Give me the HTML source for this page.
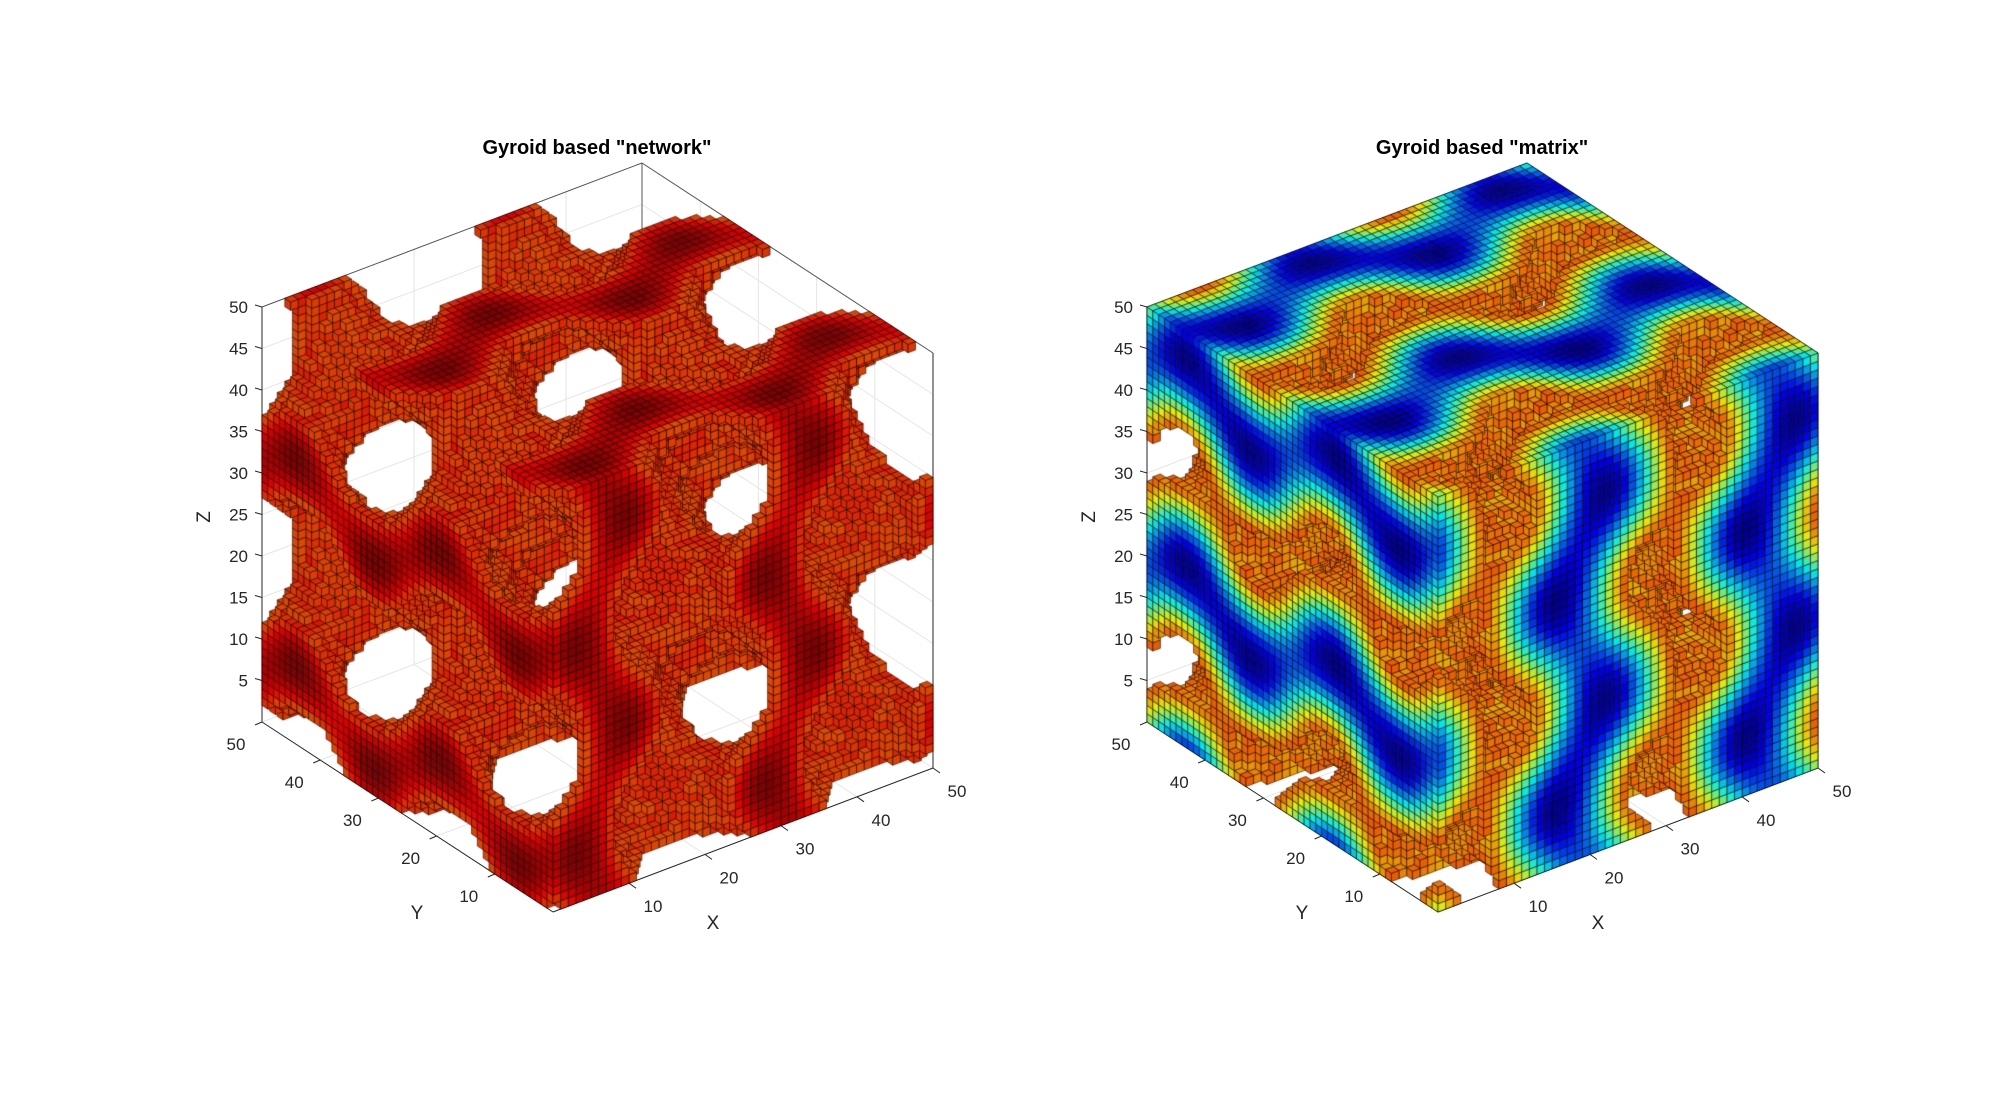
<!DOCTYPE html>
<html><head><meta charset="utf-8">
<style>
html,body{margin:0;padding:0;background:#fff;}
#wrap{position:relative;width:2000px;height:1113px;overflow:hidden;font-family:"Liberation Sans",sans-serif;}
svg,canvas{position:absolute;left:0;top:0;}
</style></head>
<body>
<div id="wrap">
<svg id="axes" width="2000" height="1113"></svg>
<canvas id="cv" width="2000" height="1113"></canvas>
</div>
<script>
// ---- data ----
const xTicks = [10, 20, 30, 40, 50];
const yTicks = [10, 20, 30, 40, 50];
const zTicks = [5, 10, 15, 20, 25, 30, 35, 40, 45, 50];
const gridN = [50];
const periods = [2];
const titles = ['Gyroid based "network"', 'Gyroid based "matrix"'];
const thresholds = [0.45, 0.9];
const phases = [0, 0, 0];

// ---- projection ----
const EX=[7.6,-2.88], EY=[-5.82,-3.8], EZ=[0,-8.3];
const origins=[[553,912],[1438,912]];
function P(o,x,y,z){return [o[0]+x*EX[0]+y*EY[0]+z*EZ[0], o[1]+x*EX[1]+y*EY[1]+z*EZ[1]];}

const NS="http://www.w3.org/2000/svg";
const svg=document.getElementById('axes');
function mk(tag,attrs,name){const e=document.createElementNS(NS,tag);for(const k in attrs)e.setAttribute(k,attrs[k]);


svg.appendChild(e);return e;}
function line(a,b,col,w,name){return mk('line',{x1:a[0],y1:a[1],x2:b[0],y2:b[1],stroke:col,'stroke-width':w},name);}
function text(x,y,s,name,extra){const t=mk('text',Object.assign({x:x,y:y,'font-size':17,fill:'#262626','font-family':'Liberation Sans, sans-serif'},extra||{}),name);t.textContent=s;return t;}

const N=gridN[0];
origins.forEach((o,pi)=>{
  const gc='#e6e6e6';
  xTicks.forEach(v=>{ line(P(o,v,0,0),P(o,v,N,0),gc,1,'floor-grid-x'); line(P(o,v,N,0),P(o,v,N,N),gc,1,'wall-grid-x'); });
  yTicks.forEach(v=>{ line(P(o,0,v,0),P(o,N,v,0),gc,1,'floor-grid-y'); line(P(o,N,v,0),P(o,N,v,N),gc,1,'wall-grid-y'); });
  zTicks.forEach(v=>{ line(P(o,0,N,v),P(o,N,N,v),gc,1,'wall-grid-z'); line(P(o,N,N,v),P(o,N,0,v),gc,1,'wall-grid-z'); });
  const ac='#262626';
  line(P(o,0,N,N),P(o,N,N,N),'#555',1,'box-edge');
  line(P(o,N,N,N),P(o,N,0,N),'#555',1,'box-edge');
  line(P(o,N,N,0),P(o,N,N,N),'#555',1,'box-edge');
  line(P(o,0,N,0),P(o,0,N,N),ac,1,'z-axis-line');
  line(P(o,0,N,0),P(o,0,0,0),ac,1,'y-axis-line');
  line(P(o,0,0,0),P(o,N,0,0),ac,1,'x-axis-line');
  line(P(o,N,0,0),P(o,N,0,N),ac,1,'box-edge');
  zTicks.forEach(v=>{const p=P(o,0,N,v); line(p,[p[0]-7,p[1]-2],ac,1,'z-tick');
    text(p[0]-14,p[1]+6,String(v),'z-tick-label',{'text-anchor':'end'});});
  yTicks.forEach(v=>{const p=P(o,0,v,0); line(p,[p[0]-7,p[1]+3],ac,1,'y-tick');
    text(p[0]-26,p[1]+28,String(v),'y-tick-label',{'text-anchor':'middle'});});
  xTicks.forEach(v=>{const p=P(o,v,0,0); line(p,[p[0]+7,p[1]+5],ac,1,'x-tick');
    text(p[0]+24,p[1]+29,String(v),'x-tick-label',{'text-anchor':'middle'});});
  text(o[0]+160,o[1]+17,'X','x-axis-title',{'font-size':19,'text-anchor':'middle'});
  text(o[0]-136,o[1]+7,'Y','y-axis-title',{'font-size':19,'text-anchor':'middle'});
  text(0,0,'Z','z-axis-title',{'font-size':19,'text-anchor':'middle',transform:'translate('+(o[0]-343)+','+(o[1]-395)+') rotate(-90)'});
  text(o[0]+44,154,titles[pi],'chart-title',{'font-size':20,'font-weight':'bold','text-anchor':'middle',fill:'#000'});
});

// ---- voxels ----
function jet(c){const cl=v=>Math.max(0,Math.min(1,v));return [cl(1.5-Math.abs(4*c-3)),cl(1.5-Math.abs(4*c-2)),cl(1.5-Math.abs(4*c-1))];}
const k=2*Math.PI*periods[0]/N;
const F=new Float32Array(N*N*N);
for(let i=0;i<N;i++)for(let j=0;j<N;j++)for(let l=0;l<N;l++){
  const X=k*(i+0.5)+phases[0],Y=k*(j+0.5)+phases[1],Z=k*(l+0.5)+phases[2];
  F[(i*N+j)*N+l]=Math.sin(X)*Math.cos(Y)+Math.sin(Y)*Math.cos(Z)+Math.sin(Z)*Math.cos(X);
}
const cv=document.getElementById('cv'),ctx=cv.getContext('2d');
ctx.lineWidth=0.7;ctx.strokeStyle='rgba(0,0,0,0.8)';
function drawCube(o,solid,colorOf){
  const S=(i,j,l)=>i>=0&&j>=0&&l>=0&&i<N&&j<N&&l<N&&solid(F[(i*N+j)*N+l]);
  for(let i=N-1;i>=0;i--)for(let j=N-1;j>=0;j--)for(let l=0;l<N;l++){
    const f=F[(i*N+j)*N+l]; if(!solid(f))continue;
    const c=colorOf(f);
    const faces=[];
    if(!S(i-1,j,l))faces.push([[i,j,l],[i,j+1,l],[i,j+1,l+1],[i,j,l+1]]);
    if(!S(i,j-1,l))faces.push([[i,j,l],[i+1,j,l],[i+1,j,l+1],[i,j,l+1]]);
    if(!S(i,j,l+1))faces.push([[i,j,l+1],[i+1,j,l+1],[i+1,j+1,l+1],[i,j+1,l+1]]);
    if(!faces.length)continue;
    ctx.fillStyle='rgb('+Math.round(c[0]*255)+','+Math.round(c[1]*255)+','+Math.round(c[2]*255)+')';
    for(const fc of faces){ctx.beginPath();fc.forEach((v,n)=>{const p=P(o,v[0],v[1],v[2]);n?ctx.lineTo(p[0],p[1]):ctx.moveTo(p[0],p[1]);});
      ctx.closePath();ctx.fill();ctx.stroke();}
  }
}
const t1=thresholds[0],t2=thresholds[1],fmin=-1.5,fmax=1.5;
drawCube(origins[0],f=>f>t1,f=>{const c=jet(0.8+0.2*(f-t1)/(fmax-t1));return [c[0]*0.87,c[1]*0.95,c[2]];});
drawCube(origins[1],f=>f<t2,f=>{const c=jet(0.78*(f-fmin)/(t2-fmin));return [c[0]*0.92,c[1]*0.92,c[2]*0.92];});
</script>
</body></html>
